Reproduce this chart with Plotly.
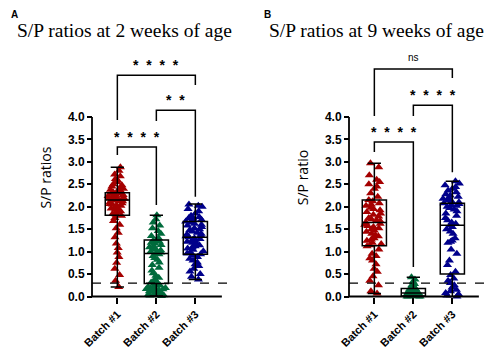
import plotly.graph_objects as go

categories = ["Batch #1", "Batch #2", "Batch #3"]
colors = ["#A50000", "#006B3C", "#00008B"]

# ---- 2 weeks of age (panel A) ----
wk2_batch1 = [2.88, 2.80, 2.72, 2.68, 2.62, 2.58, 2.55, 2.50, 2.48, 2.45, 2.42, 2.40, 2.38, 2.36,
              2.34, 2.32, 2.30, 2.29, 2.28, 2.26, 2.25, 2.24, 2.22, 2.21, 2.20, 2.19, 2.18, 2.17,
              2.16, 2.15, 2.14, 2.13, 2.12, 2.10, 2.08, 2.06, 2.05, 2.03, 2.02, 2.00, 1.98, 1.96,
              1.94, 1.92, 1.90, 1.88, 1.86, 1.84, 1.82, 1.80, 1.75, 1.68, 1.60, 1.52, 1.42, 1.32,
              1.18, 1.08, 0.98, 0.88, 0.75, 0.62, 0.48, 0.35, 0.21]
wk2_batch2 = [1.81, 1.72, 1.65, 1.58, 1.52, 1.46, 1.40, 1.35, 1.30, 1.26, 1.24, 1.22, 1.20, 1.18,
              1.15, 1.12, 1.10, 1.08, 1.05, 1.03, 1.00, 0.98, 0.96, 0.94, 0.90, 0.86, 0.82, 0.76,
              0.70, 0.64, 0.58, 0.52, 0.46, 0.42, 0.38, 0.34, 0.31, 0.29, 0.27, 0.25, 0.24, 0.22,
              0.21, 0.20, 0.19, 0.18, 0.17, 0.16, 0.15, 0.14, 0.12, 0.11, 0.10, 0.08, 0.07, 0.05,
              0.04, 0.03, 0.02, 0.01]
wk2_batch3 = [2.05, 2.02, 2.00, 1.95, 1.90, 1.85, 1.80, 1.77, 1.75, 1.73, 1.71, 1.69, 1.67, 1.65,
              1.62, 1.60, 1.58, 1.55, 1.52, 1.50, 1.48, 1.45, 1.42, 1.40, 1.38, 1.36, 1.34, 1.32,
              1.30, 1.28, 1.26, 1.24, 1.22, 1.20, 1.17, 1.14, 1.12, 1.10, 1.07, 1.04, 1.01, 0.98,
              0.96, 0.94, 0.92, 0.88, 0.84, 0.80, 0.76, 0.72, 0.68, 0.62, 0.56, 0.50, 0.44, 0.38]
wk2_lower = [0.21, 0.01, 0.38]
wk2_q1 = [1.81, 0.29, 0.94]
wk2_median = [2.15, 0.96, 1.32]
wk2_q3 = [2.31, 1.26, 1.67]
wk2_upper = [2.88, 1.81, 2.06]

# ---- 9 weeks of age (panel B) ----
wk9_batch1 = [2.97, 2.88, 2.70, 2.60, 2.55, 2.50, 2.45, 2.40, 2.30, 2.22, 2.15, 2.12, 2.08, 2.05,
              2.02, 1.98, 1.95, 1.92, 1.88, 1.85, 1.82, 1.78, 1.75, 1.72, 1.70, 1.68, 1.65, 1.62,
              1.60, 1.57, 1.55, 1.52, 1.50, 1.47, 1.44, 1.40, 1.37, 1.34, 1.30, 1.27, 1.24, 1.20,
              1.17, 1.14, 1.12, 1.05, 0.95, 0.90, 0.85, 0.80, 0.72, 0.62, 0.55, 0.45, 0.35, 0.25,
              0.12, 0.07]
wk9_batch2 = [0.43, 0.38, 0.33, 0.28, 0.25, 0.22, 0.20, 0.18, 0.17, 0.16, 0.15, 0.14, 0.13, 0.12,
              0.12, 0.11, 0.10, 0.10, 0.09, 0.09, 0.08, 0.08, 0.07, 0.07, 0.06, 0.06, 0.05, 0.05,
              0.04, 0.04, 0.03, 0.03, 0.02, 0.02, 0.01, 0.01, 0.00, 0.00, 0.00, 0.00]
wk9_batch3 = [2.57, 2.52, 2.48, 2.44, 2.40, 2.36, 2.32, 2.28, 2.25, 2.22, 2.20, 2.18, 2.15, 2.12,
              2.10, 2.08, 2.06, 2.04, 2.02, 2.00, 1.97, 1.94, 1.90, 1.85, 1.80, 1.75, 1.70, 1.65,
              1.62, 1.58, 1.55, 1.50, 1.45, 1.40, 1.30, 1.25, 1.22, 1.20, 1.05, 0.95, 0.80, 0.70,
              0.55, 0.48, 0.40, 0.35, 0.30, 0.25, 0.20, 0.15, 0.12, 0.08, 0.05, 0.02, 0.00]
wk9_lower = [0.07, 0.00, 0.00]
wk9_q1 = [1.13, 0.01, 0.50]
wk9_median = [1.65, 0.08, 1.59]
wk9_q3 = [2.15, 0.18, 2.08]
wk9_upper = [2.97, 0.43, 2.57]

cutoff = 0.3
yticks = [0, 0.5, 1.0, 1.5, 2.0, 2.5, 3.0, 3.5, 4.0]

# significance brackets: (left cat idx, right cat idx, left leg bottom, bar level, right leg bottom, label, label y)
wk2_brackets = [
    (0, 1, 3.15, 3.33, 2.04, "*  *  *  *", 3.55),
    (1, 2, 3.91, 4.15, 2.22, "*  *", 4.37),
    (0, 2, 3.93, 4.93, 4.71, "*  *  *  *", 5.15),
]
wk9_brackets = [
    (0, 1, 3.22, 3.44, 0.66, "*  *  *  *", 3.66),
    (1, 2, 4.02, 4.26, 2.77, "*  *  *  *", 4.48),
    (0, 2, 4.02, 5.07, 4.87, "ns", 5.33),
]

# ---- layout geometry (the page has an 8px body margin) ----
OFF = 8
W, H = 500 - 2 * OFF, 360 - 2 * OFF


def px_x(p):
    return (p - OFF) / W


def px_y(p):
    return 1 - (p - OFF) / H


XR = [-0.75, 2.95]
YR = [-0.2, 5.5]
AXIS_X = -0.65
AXIS_END = 2.68
DASH_END = 2.93
ydom = [px_y(305.5), px_y(49.6)]
xdomA = [px_x(88.1), px_x(232.4)]
xdomB = [px_x(345.1), px_x(489.4)]


def yaxis_pos(xdom):
    return xdom[0] + (AXIS_X - XR[0]) / (XR[1] - XR[0]) * (xdom[1] - xdom[0])


xaxis_pos = ydom[0] + (0 - YR[0]) / (YR[1] - YR[0]) * (ydom[1] - ydom[0])

fig = go.Figure()

tickfont = dict(family="Liberation Sans", size=12, color="black", weight="bold")
xtickfont = dict(family="Liberation Sans", size=11, color="black", weight="bold")


def add_panel(xa, ya, data, lower, q1, med, q3, upper, brackets):
    for cat, vals, col in zip(categories, data, colors):
        fig.add_trace(go.Box(
            x=[cat] * len(vals), y=vals, xaxis=xa, yaxis=ya,
            boxpoints="all", jitter=0.85, pointpos=0, width=0.62,
            line=dict(color="rgba(0,0,0,0)", width=0), fillcolor="rgba(0,0,0,0)",
            marker=dict(symbol="triangle-up", size=8, color=col, line=dict(width=0)),
            showlegend=False, hoverinfo="y"))
    fig.add_trace(go.Box(
        x=categories, q1=q1, median=med, q3=q3, lowerfence=lower, upperfence=upper,
        xaxis=xa, yaxis=ya, width=0.62, whiskerwidth=0.55, boxpoints=False,
        line=dict(color="black", width=1.5), fillcolor="rgba(0,0,0,0)",
        showlegend=False))
    xr = "x" if xa == "x" else "x2"
    yr = "y" if ya == "y" else "y2"
    # axis lines
    fig.add_shape(type="line", xref=xr, yref=yr, x0=AXIS_X, x1=AXIS_X, y0=0, y1=4,
                  line=dict(color="black", width=1.8))
    fig.add_shape(type="line", xref=xr, yref=yr, x0=AXIS_X, x1=AXIS_END, y0=0, y1=0,
                  line=dict(color="black", width=1.8))
    # cutoff
    fig.add_shape(type="line", xref=xr, yref=yr, x0=AXIS_X, x1=DASH_END, y0=cutoff, y1=cutoff,
                  line=dict(color="black", width=1.3, dash="dash"))
    for (a, b, la, lv, lb, lab, ly) in brackets:
        fig.add_shape(type="path", xref=xr, yref=yr,
                      path=f"M {a},{la} L {a},{lv} L {b},{lv} L {b},{lb}",
                      line=dict(color="black", width=1.5))
        is_ns = lab == "ns"
        fig.add_annotation(xref=xr, yref=yr, x=(a + b) / 2, y=ly, text=lab, showarrow=False,
                           yanchor="middle",
                           font=dict(family="Liberation Sans", size=10 if is_ns else 14,
                                     color="black", weight="normal" if is_ns else "bold"))


add_panel("x", "y", [wk2_batch1, wk2_batch2, wk2_batch3],
          wk2_lower, wk2_q1, wk2_median, wk2_q3, wk2_upper, wk2_brackets)
add_panel("x2", "y2", [wk9_batch1, wk9_batch2, wk9_batch3],
          wk9_lower, wk9_q1, wk9_median, wk9_q3, wk9_upper, wk9_brackets)

xcommon = dict(type="category", range=XR, anchor="free", position=xaxis_pos, automargin=False,
               showline=False, showgrid=False, zeroline=False, ticks="outside",
               ticklen=6, tickwidth=1.5, tickcolor="black", tickangle=-45, tickfont=xtickfont,
               categoryorder="array", categoryarray=categories)
ycommon = dict(range=YR, domain=ydom, showline=False, showgrid=False, zeroline=False,
               ticks="outside", ticklen=5, tickwidth=1.5, tickcolor="black", automargin=False,
               tickvals=yticks, tickformat=".1f", tickfont=tickfont, anchor="free")

fig.update_layout(
    width=W, height=H, margin=dict(l=0, r=0, t=0, b=0, autoexpand=False),
    paper_bgcolor="white", plot_bgcolor="white", boxmode="overlay", showlegend=False,
    xaxis=dict(domain=xdomA, **xcommon),
    xaxis2=dict(domain=xdomB, **xcommon),
    yaxis=dict(position=yaxis_pos(xdomA),
               title=dict(text="S/P ratios", standoff=12,
                          font=dict(family="Open Sans", size=14, color="black")),
               **ycommon),
    yaxis2=dict(position=yaxis_pos(xdomB),
                title=dict(text="S/P ratio", standoff=12,
                           font=dict(family="Open Sans", size=14, color="black")),
                **ycommon),
)

for txt, x in [("S/P ratios at 2 weeks of age", 15), ("S/P ratios at 9 weeks of age", 267)]:
    fig.add_annotation(xref="paper", yref="paper", x=px_x(x), y=px_y(30), text=txt, showarrow=False,
                       xanchor="left", yanchor="middle",
                       font=dict(family="Liberation Serif", size=19.5, color="black"))
for txt, x in [("A", 10), ("B", 263)]:
    fig.add_annotation(xref="paper", yref="paper", x=px_x(x), y=1, text=txt, showarrow=False,
                       xanchor="left", yanchor="top", borderpad=0,
                       font=dict(family="Liberation Sans", size=10, color="black", weight="bold"))

fig.write_html("out.html")
